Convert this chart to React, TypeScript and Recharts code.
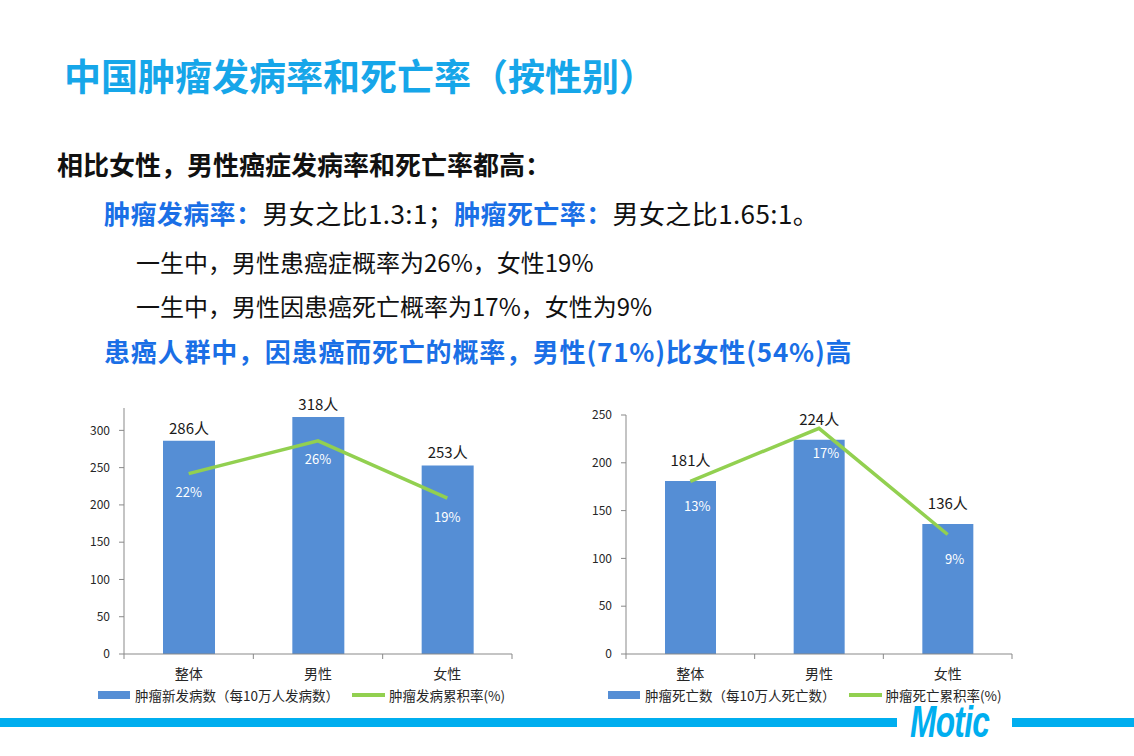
import { ComposedChart, Bar, Line, XAxis, YAxis, Legend, LabelList } from 'recharts';

const categories = ['整体', '男性', '女性'];
const incidenceCounts = [286, 318, 253];
const incidenceRates = [22, 26, 19];
const mortalityCounts = [181, 224, 136];
const mortalityRates = [13, 17, 9];
const incidenceTicks = [0, 50, 100, 150, 200, 250, 300];
const mortalityTicks = [0, 50, 100, 150, 200, 250];

const BAR_BLUE = '#558ED5';
const GREEN = '#92D050';
const AXIS = '#898989';
const INK = '#262626';
const CHART_FONT = '"Noto Sans CJK SC", "Noto Sans", sans-serif';

type Margin = { top: number; right: number; left: number; bottom: number };

type PanelProps = {
  left: number;
  top: number;
  width: number;
  height: number;
  margin: Margin;
  yWidth: number;
  counts: number[];
  rates: number[];
  ticks: number[];
  countMax: number;
  rateMax: number;
  barSize: number;
  barName: string;
  lineName: string;
  barLabelOffset: number;
  rateDx: number;
  rateDy: number;
  legendIndent: number;
};

function PanelLegend({ barName, lineName, indent }: { barName: string; lineName: string; indent: number }) {
  return (
    <div
      style={{
        height: 22,
        display: 'flex',
        alignItems: 'center',
        paddingLeft: indent,
        fontSize: 13.5,
        lineHeight: '14px',
        color: INK,
        fontFamily: CHART_FONT,
        whiteSpace: 'nowrap',
      }}
    >
      <span style={{ display: 'inline-block', width: 32, height: 8, background: BAR_BLUE, marginRight: 5 }} />
      <span>{barName}</span>
      <span style={{ display: 'inline-block', width: 33, height: 4, background: GREEN, marginLeft: 13, marginRight: 4 }} />
      <span>{lineName}</span>
    </div>
  );
}

function makeCategoryTick(band: number, count: number) {
  return (props: any) => {
    const { x, y, payload, index } = props;
    return (
      <g>
        <line x1={x - band / 2} x2={x - band / 2} y1={y} y2={y + 5} stroke={AXIS} />
        {index === count - 1 && <line x1={x + band / 2} x2={x + band / 2} y1={y} y2={y + 5} stroke={AXIS} />}
        <text
          x={x}
          y={y + 19}
          textAnchor="middle"
          dominantBaseline="central"
          fontSize={14}
          fill={INK}
          fontFamily={CHART_FONT}
        >
          {payload.value}
        </text>
      </g>
    );
  };
}

function ChartPanel(p: PanelProps) {
  const data = categories.map((name, i) => ({ name, count: p.counts[i], rate: p.rates[i] }));
  const band = (p.width - p.margin.left - p.margin.right - p.yWidth) / categories.length;

  // white percentage labels sit just under each point of the line
  const rateLabel = (lp: any) => (
    <text
      x={lp.x + p.rateDx}
      y={lp.y + p.rateDy}
      textAnchor="middle"
      dominantBaseline="central"
      fontSize={13}
      fill="#ffffff"
      fontFamily={CHART_FONT}
    >
      {lp.value}%
    </text>
  );

  return (
    <div style={{ position: 'absolute', left: p.left, top: p.top }}>
      <ComposedChart width={p.width} height={p.height} data={data} margin={p.margin}>
        <XAxis
          dataKey="name"
          xAxisId={0}
          height={30}
          stroke={AXIS}
          tickSize={0}
          tickMargin={0}
          tickLine={false}
          tick={makeCategoryTick(band, categories.length)}
        />
        <YAxis
          yAxisId="count"
          width={p.yWidth}
          domain={[0, p.countMax]}
          ticks={p.ticks}
          stroke={AXIS}
          tickSize={5}
          tickMargin={9}
          tick={{ fontSize: 12, fill: INK, fontFamily: CHART_FONT }}
        />
        <YAxis yAxisId="rate" orientation="right" hide domain={[0, p.rateMax]} />
        <Legend
          verticalAlign="bottom"
          align="left"
          wrapperStyle={{ left: 0, width: p.width }}
          content={() => <PanelLegend barName={p.barName} lineName={p.lineName} indent={p.legendIndent} />}
        />
        <Bar yAxisId="count" dataKey="count" fill={BAR_BLUE} barSize={p.barSize} isAnimationActive={false}>
          <LabelList
            dataKey="count"
            position="top"
            offset={p.barLabelOffset}
            formatter={(v: any) => `${v}人`}
            fill="#1a1a1a"
            fontSize={15}
            fontFamily={CHART_FONT}
          />
        </Bar>
        <Line
          yAxisId="rate"
          dataKey="rate"
          stroke={GREEN}
          strokeWidth={3.5}
          dot={false}
          activeDot={false}
          isAnimationActive={false}
        >
          <LabelList dataKey="rate" content={rateLabel} />
        </Line>
      </ComposedChart>
    </div>
  );
}

const textBase: React.CSSProperties = {
  position: 'absolute',
  fontFamily: '"Noto Sans CJK SC", sans-serif',
  whiteSpace: 'nowrap',
  lineHeight: 1,
};

const CYAN = '#16A6E9';
const STRONG_BLUE = '#1A6FE6';

export default function App() {
  return (
    <div
      style={{
        position: 'absolute',
        left: 0,
        top: 0,
        width: 1134,
        height: 756,
        background: '#ffffff',
        overflow: 'hidden',
      }}
    >
      <div style={{ ...textBase, left: 64, top: 57, fontSize: 37, fontWeight: 700, color: CYAN }}>
        中国肿瘤发病率和死亡率（按性别）
      </div>
      <div style={{ ...textBase, left: 57, top: 151, fontSize: 26, fontWeight: 700, color: '#111' }}>
        相比女性，男性癌症发病率和死亡率都高：
      </div>
      <div style={{ ...textBase, left: 104, top: 200, fontSize: 26, color: '#111', letterSpacing: 0.4 }}>
        <span style={{ fontWeight: 700, color: STRONG_BLUE }}>肿瘤发病率：</span>
        <span>男女之比1.3:1；</span>
        <span style={{ fontWeight: 700, color: STRONG_BLUE }}>肿瘤死亡率：</span>
        <span>男女之比1.65:1。</span>
      </div>
      <div style={{ ...textBase, left: 136, top: 250, fontSize: 24, color: '#111' }}>
        一生中，男性患癌症概率为26%，女性19%
      </div>
      <div style={{ ...textBase, left: 136, top: 294, fontSize: 24, color: '#111' }}>
        一生中，男性因患癌死亡概率为17%，女性为9%
      </div>
      <div
        style={{
          ...textBase,
          left: 104,
          top: 338,
          fontSize: 26,
          fontWeight: 700,
          color: STRONG_BLUE,
          letterSpacing: 0.8,
        }}
      >
        患癌人群中，因患癌而死亡的概率，男性(71%)比女性(54%)高
      </div>

      <ChartPanel
        left={80}
        top={390}
        width={460}
        height={320}
        margin={{ top: 18, right: 28, left: 4, bottom: 4 }}
        yWidth={40}
        counts={incidenceCounts}
        rates={incidenceRates}
        ticks={incidenceTicks}
        countMax={330}
        rateMax={30}
        barSize={52}
        barName="肿瘤新发病数（每10万人发病数）"
        lineName="肿瘤发病累积率(%)"
        barLabelOffset={7}
        rateDx={0}
        rateDy={18}
        legendIndent={18}
      />
      <ChartPanel
        left={580}
        top={390}
        width={440}
        height={320}
        margin={{ top: 25, right: 8, left: 4, bottom: 4 }}
        yWidth={42}
        counts={mortalityCounts}
        rates={mortalityRates}
        ticks={mortalityTicks}
        countMax={250}
        rateMax={18}
        barSize={51}
        barName="肿瘤死亡数（每10万人死亡数）"
        lineName="肿瘤死亡累积率(%)"
        barLabelOffset={15}
        rateDx={7}
        rateDy={24}
        legendIndent={28}
      />

      <div style={{ position: 'absolute', left: 0, top: 718, width: 897, height: 9, background: '#00AEEF' }} />
      <div style={{ position: 'absolute', left: 1012, top: 718, width: 122, height: 9, background: '#00AEEF' }} />
      <div
        style={{
          position: 'absolute',
          left: 910,
          top: 707,
          fontFamily: '"Liberation Sans", Arial, sans-serif',
          fontWeight: 700,
          fontStyle: 'italic',
          fontSize: 44,
          lineHeight: '30px',
          height: 30,
          color: '#00AEEF',
          transform: 'scaleX(0.72)',
          transformOrigin: 'left top',
          letterSpacing: -1,
        }}
      >
        Motic
      </div>
    </div>
  );
}
